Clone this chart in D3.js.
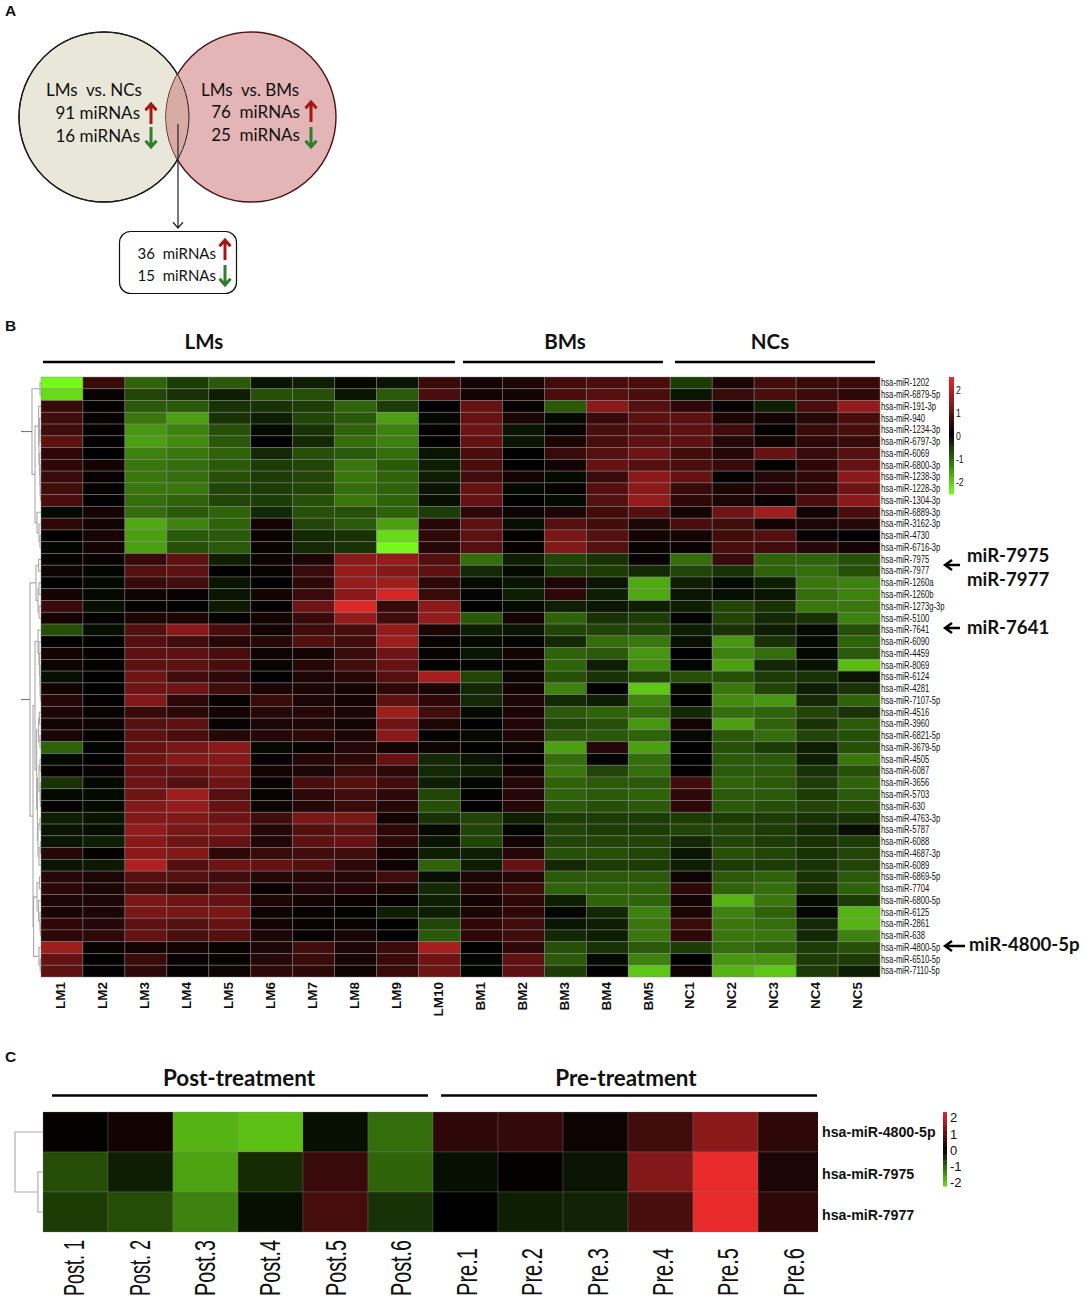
<!DOCTYPE html>
<html><head><meta charset="utf-8">
<script src="https://cdn.jsdelivr.net/npm/d3@7/dist/d3.min.js"></script>
<style>
html,body{margin:0;padding:0;background:#fff}
svg{display:block}
text{fill:#111}
</style></head><body>
<svg id="c" width="1084" height="1300" viewBox="0 0 1084 1300"></svg>
<script>
// ---------- data ----------
const bCols = ["LM1","LM2","LM3","LM4","LM5","LM6","LM7","LM8","LM9","LM10","BM1","BM2","BM3","BM4","BM5","NC1","NC2","NC3","NC4","NC5"];
const bRows = ["1202","6879-5p","191-3p","940","1234-3p","6797-3p","6069","6800-3p","1238-3p","1228-3p","1304-3p","6889-3p","3162-3p","4730","6716-3p","7975","7977","1260a","1260b","1273g-3p","5100","7641","6090","4459","8069","6124","4281","7107-5p","4516","3960","6821-5p","3679-5p","4505","6087","3656","5703","630","4763-3p","5787","6088","4687-3p","6089","6869-5p","7704","6800-5p","6125","2861","638","4800-5p","6510-5p","7110-5p"].map(s=>"hsa-miR-"+s);
const bValues = [
[-2.5,.6,-1,-.6,-.9,-.2,-.3,-.1,-.2,.6,.2,.3,.7,.8,.8,-.6,.3,.7,.6,.6],
[-2.2,.1,-.7,-.5,-.3,-.8,-.8,-.2,-.9,.8,.2,.2,.8,.9,.8,-.2,.6,.8,.6,.5],
[.6,.05,-.9,-.9,-.5,-.5,-.6,-1,-.6,0,1.1,.1,-.9,1.5,.9,.5,.1,-.3,.8,1.6],
[.7,.1,-1.2,-1.6,-.5,-.3,-.7,-.9,-1.6,-.1,1.1,.3,-.1,.6,1,1,.3,.2,.4,.8],
[.7,.05,-1.5,-1.3,-.8,-.1,-.5,-1,-1.3,.05,1.2,-.2,.1,.8,.9,1,.7,.05,.6,.8],
[1,.03,-1.6,-1.4,-.9,0,-.4,-1.1,-1.3,0,1.1,-.2,.3,.8,1,1,.4,.2,.5,.6],
[.5,0,-1.3,-1.2,-1,-.4,-.8,-.9,-1.1,-.2,.8,0,.6,.9,1.2,.7,.4,1.1,.6,.9],
[.5,.2,-1.2,-1.1,-.9,-.6,-.7,-1.2,-.9,-.3,.8,0,.2,1.1,.9,.8,.6,.05,.5,1.1],
[.6,.08,-1.2,-1.1,-.8,-.6,-.7,-1.2,-1,-.3,.7,.2,-.1,.6,1.5,1.1,.05,.4,.5,1.5],
[.7,.05,-1.2,-1.2,-.7,-.6,-.7,-1.1,-1,-.2,1.1,-.1,.05,.9,1.5,.6,.3,.4,.5,1.2],
[.8,.03,-1.1,-1,-.7,-.6,-.8,-1.2,-1,-.15,1.1,0,-.1,.9,1.6,.5,.3,.1,.8,1.5],
[-.1,.2,-1.1,-.9,-1,-.4,-.8,-.8,-1,-.6,.5,.15,.3,.7,.9,.2,1.2,1.7,.2,.8],
[.5,.2,-1.7,-1.3,-1,.2,-.7,-.9,-1.6,.4,1,-.15,.9,.7,.3,.8,.7,.2,.3,.4],
[0,.25,-1.6,-.9,-.9,.1,-.4,-.5,-2.2,.5,1,.07,1.3,.9,.2,.2,.7,.9,.1,0],
[-.05,.2,-1.6,-.8,-.9,.1,-.4,-.5,-2.5,.4,.9,.05,1.4,.9,.1,.1,.8,.7,.4,.2],
[.1,.1,.6,1,-.3,.15,.3,1.5,1.6,.9,-1.1,-.3,-.7,-.5,.1,-1.1,.6,-1,-1,-.8],
[.15,-.05,.9,1,0,.1,.6,1.6,1.4,1,-.4,-.1,-.6,-.6,-.4,-.7,-.5,-1,-1.1,-.8],
[0,-.1,.6,.7,-.2,0,.5,1.6,1.7,.5,-.1,-.2,.3,-.2,-1.7,-.3,-.1,-.3,-1.2,-1.3],
[.2,-.1,.15,.1,-.2,.2,.6,1.5,2.3,.6,-.05,-.3,.5,-.3,-1.7,-.2,-.15,-.2,-1.1,-1.3],
[.6,-.15,.05,0,-.25,.05,1.2,2.4,.6,1.5,0,-.1,-.3,-.2,-.3,-.3,-.7,-.5,-1.2,-1.2],
[.2,.05,.3,.3,.05,.2,.6,1.6,.7,1.6,-.9,.2,-1,-.5,-.6,-.05,-.7,-.4,-.5,-1.3],
[-.8,-.15,.9,1.5,.8,.2,.7,.8,1.6,.3,-.3,-.2,-.7,-.7,-.7,-.3,-.5,-.3,-.1,-.8],
[0,0,.9,.7,.4,.4,.9,.7,1.7,.1,-.1,-.05,-.4,-1.1,-1.2,-.15,-1.5,-.5,-.1,-1],
[.2,.05,1,1,.8,.15,.2,.6,1.2,.1,-.2,.2,-1,-.9,-1.5,0,-1.3,-1.1,-.1,-.9],
[.15,.05,1,1,.8,.1,.4,.7,1.1,0,-.05,.1,-1,-.3,-1.4,-.05,-1.6,-.4,-.2,-1.9],
[-.15,0,1.2,.7,.5,0,.3,.4,.9,1.8,-.7,.15,-.8,-.5,-.7,-.8,-.8,-.6,-.5,-.2],
[.2,0,1.2,1.2,.7,.3,.3,.2,.5,.3,-.4,.2,-1.3,0,-2,-.1,-1.2,-.7,-.3,-.5],
[.4,.05,1.4,.5,.1,.6,.3,.2,1,.5,-.4,.3,-.4,-.3,-1.3,0,-1.4,-1.5,-.4,-1],
[.3,.1,.6,.5,.2,.4,.4,.3,1.7,.7,-.1,.3,-.9,-1,-1.1,-.4,-1.1,-1,-.7,-.5],
[.2,.15,.9,1,.1,.3,.3,.2,1.2,.3,0,.35,-.7,-.8,-1.5,.2,-1.6,-1,-.5,-.9],
[.3,.05,1,.8,.4,.4,.5,.3,1.5,.05,-.1,.3,-.9,-.9,-1,-.1,-.9,-1.1,-.7,-.8],
[-1,-.05,1.1,1.3,1.5,-.1,.1,.4,.2,.15,0,.15,-1.6,.4,-1.6,0,-.8,-.6,-.3,-.8],
[-.1,0,1.2,1.4,1.4,.1,.4,.5,1.1,-.4,-.2,.05,-1.1,-.05,-1.1,0,-.9,-.9,-.3,-1.2],
[.05,.1,1.1,1.1,1.3,.2,.3,.6,.5,-.4,-.3,.2,-1.2,-.7,-1.1,.05,-.9,-.9,-.5,-.8],
[-.5,-.1,1.2,.9,1.2,.1,.8,.9,.7,-.3,-.05,.4,-1,-.9,-.9,.7,-1,-.9,-.6,-1],
[-.1,-.1,1.2,1.7,.9,.1,.5,.7,.5,-.7,.05,.4,-1,-.9,-1,.5,-.9,-.9,-.6,-.9],
[.05,-.1,1.4,1.6,1.1,.15,.4,.6,.4,-.8,0,.4,-.9,-.8,-.9,.5,-.9,-.8,-.7,-.8],
[-.3,-.2,1.4,1.4,1.2,.7,1.3,1.3,.2,-.5,-.7,-.3,-.6,-.6,-.6,-.6,-.6,-.6,-.5,-.5],
[-.2,-.15,1.6,1.3,1.3,.4,.9,1,.5,-.1,-.7,-.05,-.7,-.6,-.6,-.7,-.7,-.6,-.4,-.15],
[-.2,-.3,1.5,1.2,1.1,.35,1,1.1,.5,-.2,-.7,.2,-.7,-.7,-.7,-.4,-.7,-.6,-.5,-.6],
[.4,.05,1.5,1.4,.5,.6,.7,.7,.2,-.3,-.3,.4,-.8,-.8,-.7,-.2,-.8,-.7,-.5,-.7],
[-.2,-.25,1.9,.9,1.2,1.1,.9,.5,.15,-1,-.3,1.1,-.4,-.6,-.6,-.3,-.6,-.6,-.5,-.7],
[.4,.3,.9,.9,.7,.4,.4,.4,.7,-.15,.3,.4,-.9,-.9,-.9,.15,-.9,-1,-.5,-.9],
[.5,.3,.7,.6,.9,.1,.4,.4,.3,-.4,.4,.7,-1,-1,-1,.5,-1,-1.1,-.5,-1],
[.3,.3,1.3,1.2,1.1,.3,.2,.1,.05,-.3,.2,.5,-.3,-1,-1,.2,-1.8,-1.2,-.1,-.6],
[.3,.3,1.3,1.3,1.3,.15,.1,.03,-.3,-.3,.3,.5,-.05,-.4,-1.3,.3,-1.3,-1,-.07,-1.8],
[.5,.4,1,.9,1.1,.2,.08,.1,0,-.7,.5,.7,-.2,-.3,-1.2,.6,-1.2,-1.1,-.4,-1.8],
[.5,.5,1.1,.8,.9,.3,.08,.25,0,-.9,.5,.7,-.4,-.3,-1.2,.5,-1.2,-1.2,-.4,-1.3],
[1.7,.1,.2,.2,.1,.3,.7,.3,.6,1.8,0,.5,-.8,-.5,-.9,-.6,-1.1,-1,-.6,-.8],
[1.1,.03,.6,.1,.1,.4,.6,.25,.6,1.2,-.05,1,-.9,-.1,-1.3,0,-1.5,-1.5,-.6,-.6],
[1,.03,.5,.03,.15,.5,.5,.15,.6,1.2,-.05,1,-.6,.02,-2,.15,-1.8,-2,-.6,-.3]
];
// dendrogram merges: [height, childA, childB]; a number is a row index
const bTreeTop = [.45,[.05,0,1],[.3,[.12,2,[.1,[.08,3,[.05,4,5]],[.07,6,[.05,7,[.04,8,[.03,9,10]]]]]],[.2,11,[.1,12,[.05,13,14]]]]];
const bTreeBottom = [.55,[.25,[.12,15,16],[.15,[.1,17,18],[.1,19,20]]],[.4,[.3,[.15,21,[.1,22,[.08,23,[.05,24,[.04,25,[.03,26,27]]]]]],[.22,[.12,[.08,28,29],[.05,30,31]],[.18,[.1,[.05,32,33],[.04,34,[.03,35,36]]],[.15,[.05,37,38],[.1,[.03,39,40],41]]]]],[.37,[.2,[.08,42,43],[.12,44,[.05,45,[.03,46,47]]]],[.1,48,[.04,49,50]]]]];
const cTree = [1,0,[.18,1,2]];
const bGroups = ["LMs","BMs","NCs"];
const bTicks = [2,1,0,-1,-2];

const cCols = ["Post. 1","Post. 2","Post.3","Post.4","Post.5","Post.6","Pre.1","Pre.2","Pre.3","Pre.4","Pre.5","Pre.6"];
const cRows = ["hsa-miR-4800-5p","hsa-miR-7975","hsa-miR-7977"];
const cValues = [
[.05,.2,-1.8,-1.95,-.15,-1.1,.5,.55,.15,.7,1.5,.5],
[-.78,-.3,-1.63,-.43,.6,-1,-.15,.05,-.2,1.4,2.5,.3],
[-.6,-.78,-1.3,-.15,.75,-.5,0,-.3,-.35,.8,2.5,.5]
];
const cGroups = ["Post-treatment","Pre-treatment"];

const vennLeft = ["LMs  vs. NCs","91 miRNAs","16 miRNAs"];
const vennRight = ["LMs  vs. BMs","76  miRNAs","25  miRNAs"];
const vennBox = ["36  miRNAs","15  miRNAs"];

// ---------- shared ----------
const svg = d3.select("#c");
const LATO = "Lato, Carlito, sans-serif";
const ARIAL = "'Liberation Sans', Arial, sans-serif";
const color = d3.scaleLinear().domain([-2.5,0,2.5]).range(["#76f81a","#000000","#e82a2a"]).clamp(true);
const RED="#a51616", GREEN="#2f7f2a";

function panelLabel(t,x,y){
  svg.append("text").attr("x",x).attr("y",y).text(t)
    .attr("font-family",ARIAL).attr("font-weight",700).attr("font-size",15.5);
}
panelLabel("A",5,16);
panelLabel("B",5,331);
panelLabel("C",5,1062);

function heat(g,values,x,y,stroke){
  values.forEach((row,r)=>{
    g.selectAll(null).data(row).join("rect")
      .attr("x",(d,i)=>x(i)).attr("y",y(r))
      .attr("width",x.bandwidth()).attr("height",y.bandwidth())
      .attr("fill",d=>color(d)).attr("stroke",stroke).attr("stroke-width",.8);
  });
}
function dendro(g,tree,ypos,hx){
  function rec(n){
    if(typeof n==="number") return {y:ypos(n),x:hx(0)};
    const a=rec(n[1]), b=rec(n[2]), X=hx(n[0]);
    g.append("path").attr("d",`M${a.x},${a.y}H${X}V${b.y}H${b.x}`)
      .attr("fill","none").attr("stroke","#a9a9a9").attr("stroke-width",1.1);
    return {y:(a.y+b.y)/2,x:X};
  }
  return rec(tree);
}
function colorbar(x0,w,y0,y1,lo,hi,ticks,font,sx,family,pad){
  const s=d3.scaleLinear().domain([hi,lo]).range([y0,y1]);
  const g=svg.append("g");
  g.selectAll(null).data(d3.range(0,60)).join("rect")
    .attr("x",x0).attr("width",w)
    .attr("y",i=>s(hi-(hi-lo)*i/60)).attr("height",(y1-y0)/60+.5)
    .attr("fill",i=>color(hi-(hi-lo)*(i+.5)/60));
  const a=svg.append("g").attr("transform",`translate(${x0+w},0)`)
    .call(d3.axisRight(s).tickValues(ticks).tickSize(0).tickFormat(d=>String(d)));
  a.select(".domain").remove();
  a.selectAll("text").attr("font-family",family).attr("font-size",font).attr("fill","#111")
    .attr("x",0).attr("transform",`translate(${pad},0) scale(${sx},1)`);
}
function arrowH(x1,x2,y,w){ // points to x2
  const d=x2>x1?-1:1;
  svg.append("path").attr("d",`M${x1},${y}H${x2}M${x2+d*7},${y-5}L${x2},${y}L${x2+d*7},${y+5}`)
    .attr("fill","none").attr("stroke","#000").attr("stroke-width",w||2.4);
}
function arrowV(x,y1,y2,c,w,hw){ // points to y2
  const d=y2>y1?-1:1;
  svg.append("path").attr("d",`M${x},${y1}V${y2}M${x-hw},${y2+d*hw*1.15}L${x},${y2}L${x+hw},${y2+d*hw*1.15}`)
    .attr("fill","none").attr("stroke",c).attr("stroke-width",w);
}

// ---------- panel A ----------
const defs=svg.append("defs");
defs.append("clipPath").attr("id","clipL").append("circle").attr("cx",104).attr("cy",117).attr("r",85);
defs.append("clipPath").attr("id","clipC").append("rect").attr("x",0).attr("y",1100).attr("width",818).attr("height",140);
svg.append("circle").attr("cx",104).attr("cy",117).attr("r",85).attr("fill","#e9e7da").attr("stroke","#000").attr("stroke-width",1.4);
svg.append("circle").attr("cx",251).attr("cy",117).attr("r",85).attr("fill","#e3b5b7").attr("stroke","#4a1012").attr("stroke-width",1.4);
svg.append("circle").attr("cx",251).attr("cy",117).attr("r",85).attr("fill","#d8aca4").attr("clip-path","url(#clipL)");
svg.append("circle").attr("cx",104).attr("cy",117).attr("r",85).attr("fill","none").attr("stroke","#222").attr("stroke-width",1);
function vt(t,x,y,a,fs){
  svg.append("text").attr("x",x).attr("y",y).attr("text-anchor",a).text(t)
    .attr("font-family",LATO).attr("font-size",fs).style("white-space","pre").attr("fill","#1a1a1a");
}
vt(vennLeft[0],46,96,"start",17); vt(vennLeft[1],140,119,"end",17); vt(vennLeft[2],140,142,"end",17);
vt(vennRight[0],201,96,"start",17); vt(vennRight[1],300,118,"end",17); vt(vennRight[2],300,141,"end",17);
arrowV(151,124,104,RED,3,5.5); arrowV(151,127,147,GREEN,3,5.5);
arrowV(311,122,102,RED,3,5.5); arrowV(311,127,147,GREEN,3,5.5);
arrowV(178,124,228,"#222",1.2,5);
svg.append("rect").attr("x",119.5).attr("y",231.5).attr("width",117).attr("height",62).attr("rx",11)
  .attr("fill","#fff").attr("stroke","#111").attr("stroke-width",1.2);
vt(vennBox[0],216,259,"end",15); vt(vennBox[1],216,281,"end",15);
arrowV(225,260,240,RED,3,5.5); arrowV(225,265,285,GREEN,3,5.5);

// ---------- panel B ----------
const bx=d3.scaleBand().domain(d3.range(bCols.length)).range([41,880]);
const by=d3.scaleBand().domain(d3.range(bRows.length)).range([377,977]);
const gB=svg.append("g");
heat(gB,bValues,bx,by,"rgba(135,135,135,.55)");
const hxB=d3.scaleLinear().domain([0,1]).range([41,21]);
const yCenter=i=>by(i)+by.bandwidth()/2;
[bTreeTop,bTreeBottom].forEach(t=>{
  const r=dendro(gB,t,yCenter,hxB);
  gB.append("path").attr("d",`M${r.x},${r.y}H${hxB(1)}`).attr("stroke","#777").attr("stroke-width",1.1);
});
const bRowAxis=d3.scaleBand().domain(bRows).range([377,977]);
const ar=svg.append("g").attr("transform","translate(880,0)").call(d3.axisRight(bRowAxis).tickSize(0));
ar.select(".domain").remove();
ar.selectAll("text").attr("font-family",ARIAL).attr("font-size",10.4).attr("fill","#111")
  .attr("x",0).attr("transform","translate(1,0) scale(.74,1)");
const bColAxis=d3.scaleBand().domain(bCols).range([39.5,878.5]);
const ac=svg.append("g").attr("transform","translate(0,982)").call(d3.axisBottom(bColAxis).tickSize(0).tickPadding(0));
ac.select(".domain").remove();
ac.selectAll("text").attr("font-family",ARIAL).attr("font-weight",700).attr("font-size",13.5).attr("fill","#111")
  .attr("transform","rotate(-90)").attr("text-anchor","end").attr("x",0).attr("y",0).attr("dy","0.35em");
const groupLines={LMs:[43,455,204],BMs:[463,663,565],NCs:[675,875,770]};
bGroups.forEach(name=>{
  const [a,b,c]=groupLines[name];
  svg.append("line").attr("x1",a).attr("x2",b).attr("y1",362).attr("y2",362).attr("stroke","#000").attr("stroke-width",2.6);
  svg.append("text").attr("x",c).attr("y",349).attr("text-anchor","middle").text(name)
    .attr("font-family",LATO).attr("font-weight",700).attr("font-size",20.5);
});
colorbar(949,5,377,494,-2.55,2.55,bTicks,11.5,.75,ARIAL,2);
function note(t,x,y){
  svg.append("text").attr("x",x).attr("y",y).text(t).attr("font-family",LATO)
    .attr("font-weight",700).attr("font-size",18.6);
}
note("miR-7975",967,562); note("miR-7977",967,586); note("miR-7641",967,634); note("miR-4800-5p",969,951);
arrowH(960,945,565); arrowH(960,945,628); arrowH(965,945,946);

// ---------- panel C ----------
const cx=d3.scaleBand().domain(d3.range(cCols.length)).range([43,823]);
const cy=d3.scaleBand().domain(d3.range(cRows.length)).range([1112,1232]);
const gC=svg.append("g");
const gCells=gC.append("g").attr("clip-path","url(#clipC)");
heat(gCells,cValues,cx,cy,"rgba(135,135,135,.35)");
const hxC=d3.scaleLinear().domain([0,1]).range([43,15]);
dendro(gC,cTree,i=>cy(i)+cy.bandwidth()/2,hxC);
const crAxis=d3.scaleBand().domain(cRows).range([1112,1236]);
const cr=svg.append("g").attr("transform","translate(818,0)").call(d3.axisRight(crAxis).tickSize(0));
cr.select(".domain").remove();
cr.selectAll("text").attr("font-family",ARIAL).attr("font-weight",700).attr("font-size",14.2).attr("fill","#111")
  .attr("x",0).attr("transform","translate(4,0)");
const ccAxis=d3.scaleBand().domain(cCols).range([41,826]);
const cc=svg.append("g").attr("transform","translate(0,1296)").call(d3.axisBottom(ccAxis).tickSize(0).tickPadding(0));
cc.select(".domain").remove();
cc.selectAll("text").attr("font-family",ARIAL).attr("font-size",30).attr("fill","#222")
  .attr("transform","rotate(-90)").attr("text-anchor","start").attr("x",0).attr("y",0).attr("dy","0.35em")
  .attr("lengthAdjust","spacingAndGlyphs").attr("textLength",d=>d.startsWith("Post")?56:48);
const cLines=[[52,428,239],[441,817,626]];
cGroups.forEach((name,i)=>{
  const [a,b,c]=cLines[i];
  svg.append("line").attr("x1",a).attr("x2",b).attr("y1",1095.5).attr("y2",1095.5).attr("stroke","#000").attr("stroke-width",2.6);
  svg.append("text").attr("x",c).attr("y",1086).attr("text-anchor","middle").text(name)
    .attr("font-family",LATO).attr("font-weight",700).attr("font-size",22.4);
});
colorbar(943,4,1112,1186,-2.2,2.35,bTicks,13,1,ARIAL,3);
</script>
</body></html>
